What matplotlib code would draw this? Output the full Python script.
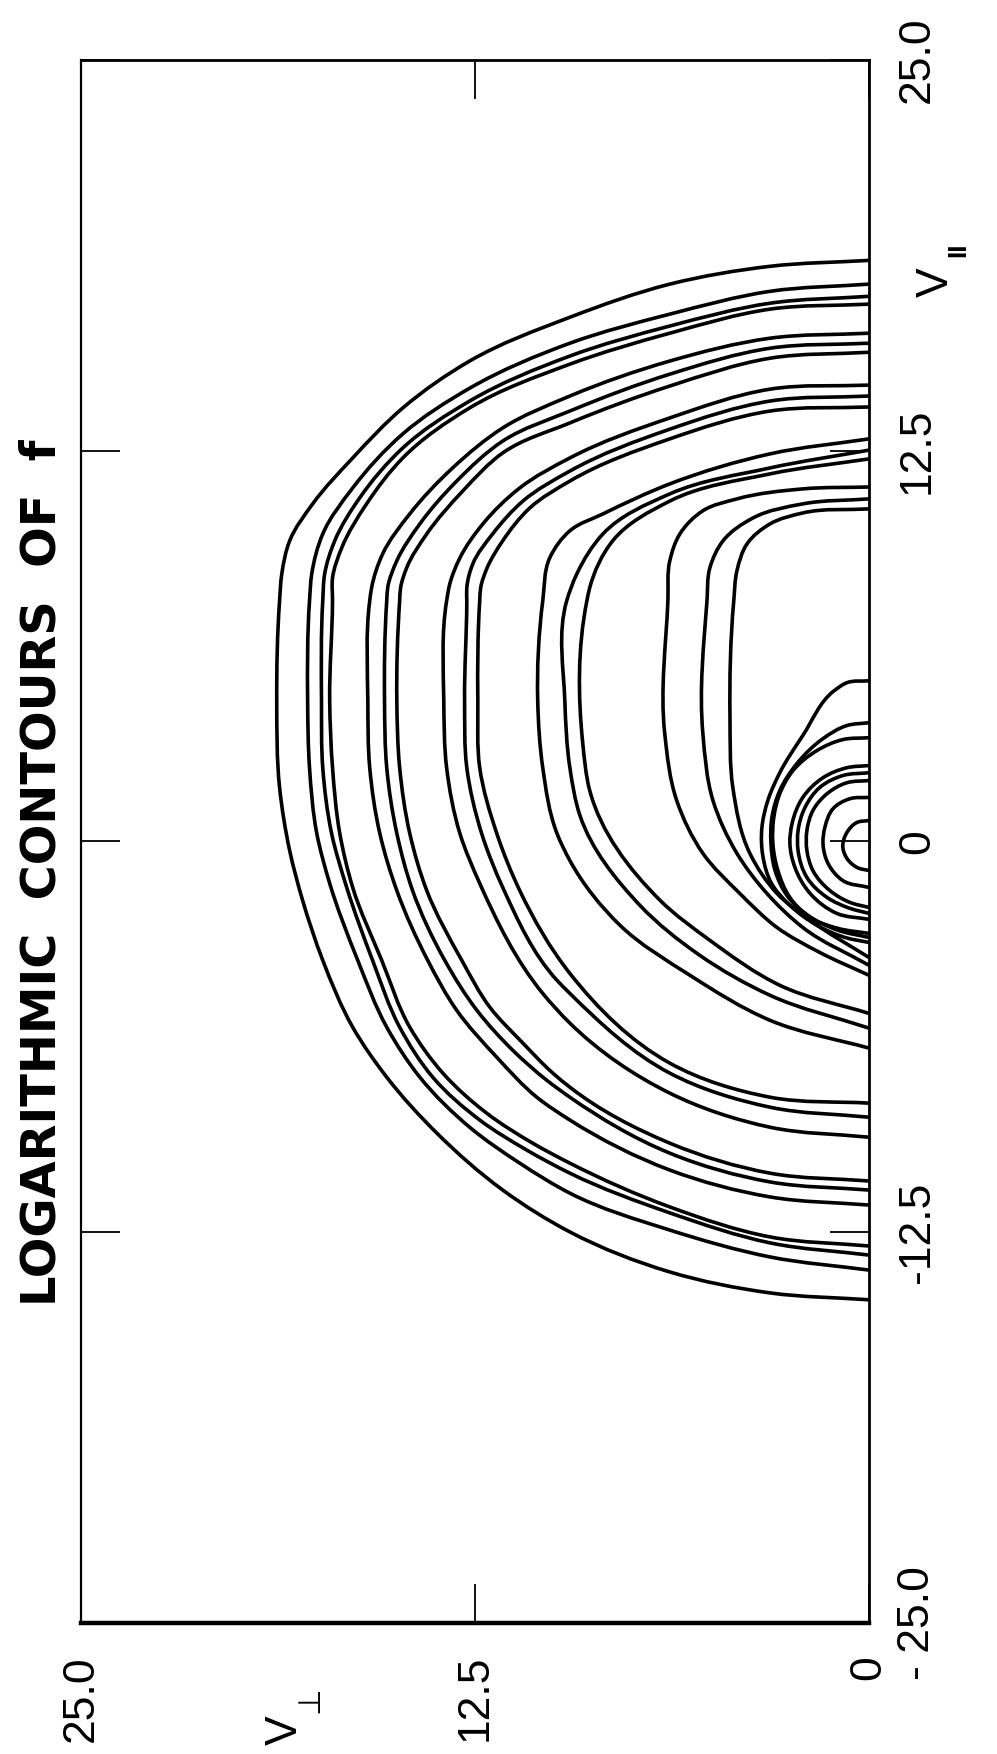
import math
import matplotlib
matplotlib.use("Agg")
import matplotlib.pyplot as plt
from matplotlib.path import Path
from matplotlib.patches import PathPatch

# ---------------- data: contour lines as (v_perp, v_par) pairs ----------------
outer = [(0, 18.59), (3.14, 18.40), (6.32, 17.83), (9.49, 16.77), (12.67, 15.37), (14.79, 13.87),
         (16.38, 12.27), (17.65, 10.80), (18.38, 9.62), (18.63, 8.56), (18.70, 7.70), (18.79, 4.50),
         (18.70, 1.73), (18.38, -0.29), (17.97, -1.88), (17.33, -3.80), (16.38, -5.94), (15.30, -7.54),
         (13.71, -9.33), (11.62, -11.15), (9.49, -12.49), (6.32, -13.77), (3.14, -14.44), (0, -14.66)]

g1_a = [(0, 17.83), (3.14, 17.60), (6.32, 16.87), (9.49, 15.94), (12.67, 14.50), (14.79, 13.04),
        (16.38, 11.31), (17.33, 9.84), (17.68, 8.56), (17.75, 7.70), (17.81, 4.50), (17.75, 2.36),
        (17.52, 0.26), (17.11, -1.34), (16.22, -3.80), (15.30, -5.94), (14.25, -7.54), (12.67, -9.14),
        (11.08, -10.29), (9.49, -11.25), (6.32, -12.43), (3.14, -13.29), (0, -13.71)]
g1_b = [(0, 17.44), (3.14, 17.22), (6.32, 16.49), (9.49, 15.53), (12.67, 14.09), (14.79, 12.59),
        (16.16, 10.99), (16.95, 9.62), (17.27, 8.56), (17.33, 7.70), (17.37, 4.50), (17.33, 2.36),
        (17.05, 0.26), (16.57, -1.47), (15.75, -3.80), (14.89, -5.94), (13.84, -7.54), (12.35, -8.91),
        (10.86, -9.87), (9.49, -10.61), (6.32, -11.88), (3.14, -12.84), (0, -13.23)]
g1_c = [(0, 17.19), (3.14, 17.03), (6.32, 16.26), (9.49, 15.27), (12.67, 13.87), (14.79, 12.27),
        (15.94, 10.80), (16.73, 9.39), (17.02, 8.43), (17.02, 7.70), (17.11, 4.50), (17.02, 2.36),
        (16.79, 0.26), (16.38, -1.47), (15.46, -3.80), (14.57, -5.94), (13.52, -7.41), (12.13, -8.69),
        (10.67, -9.65), (9.49, -10.29), (6.32, -11.69), (3.14, -12.65), (0, -12.94)]

g2_a = [(0, 16.26), (3.14, 16.10), (6.32, 15.37), (9.49, 14.25), (11.62, 13.23), (13.21, 11.95),
        (14.57, 10.48), (15.43, 9.20), (15.78, 8.12), (15.84, 7.70), (15.90, 4.50), (15.84, 2.36),
        (15.52, 0.26), (14.98, -1.57), (14.00, -3.80), (13.08, -5.40), (11.81, -6.90), (10.54, -8.18),
        (9.49, -8.91), (6.32, -10.51), (3.14, -11.37), (0, -11.63)]
g2_b = [(0, 15.94), (3.14, 15.78), (6.32, 14.95), (9.49, 13.77), (11.62, 12.81), (13.08, 11.53),
        (14.25, 10.16), (14.98, 8.98), (15.27, 8.12), (15.30, 7.70), (15.37, 4.50), (15.30, 2.36),
        (14.98, 0.26), (14.48, -1.57), (13.46, -3.80), (12.44, -5.40), (11.30, -6.68), (10.22, -7.64),
        (9.49, -8.18), (6.32, -9.97), (3.14, -10.89), (0, -11.15)]
g2_c = [(0, 15.65), (3.14, 15.46), (6.32, 14.57), (9.49, 13.39), (11.62, 12.43), (12.89, 11.21),
        (14.03, 9.84), (14.67, 8.75), (14.86, 8.12), (14.89, 7.70), (14.98, 4.50), (14.89, 2.36),
        (14.57, 0.26), (14.03, -1.57), (12.92, -3.80), (12.03, -5.30), (10.98, -6.45), (10.03, -7.41),
        (9.49, -7.86), (6.32, -9.65), (3.14, -10.61), (0, -10.86)]

g3_a = [(0, 14.60), (3.14, 14.47), (6.32, 13.55), (9.49, 12.27), (11.08, 11.31), (12.25, 10.16),
        (12.98, 9.07), (13.30, 8.24), (13.40, 7.70), (13.49, 4.50), (13.40, 2.36), (12.98, 0.26),
        (12.35, -1.34), (10.35, -4.86), (9.49, -5.81), (6.32, -8.05), (3.14, -9.14),
        (0, -9.46)]
g3_b = [(0, 14.25), (3.14, 14.09), (6.32, 13.19), (9.49, 11.85), (10.98, 10.89), (11.94, 9.84),
        (12.57, 8.88), (12.76, 8.12), (12.76, 7.70), (12.83, 4.50), (12.76, 2.36), (12.29, 0.26),
        (11.62, -1.47), (9.90, -4.44), (9.49, -4.86), (6.32, -7.41), (3.14, -8.50),
        (0, -8.82)]
g3_c = [(0, 13.90), (3.14, 13.77), (6.32, 12.88), (9.49, 11.53), (10.76, 10.67), (11.62, 9.62),
        (12.13, 8.72), (12.32, 8.12), (12.35, 7.70), (12.41, 4.50), (12.35, 2.36), (11.81, 0.26),
        (11.08, -1.57), (9.49, -4.22), (6.32, -7.09), (3.14, -8.18), (0, -8.37)]

g4_a = [(0, 12.88), (3.14, 12.40), (6.32, 11.44), (8.44, 10.48), (9.49, 9.94), (10.13, 9.07),
        (10.35, 7.70), (10.51, 4.50), (10.35, 2.36), (9.90, 0.26), (9.49, -0.61),
        (7.90, -2.68), (5.68, -4.28), (3.14, -5.72), (0, -6.61)]
g4_b = [(0, 12.52), (3.14, 11.95), (6.32, 11.12), (8.44, 9.84), (9.27, 8.56), (9.59, 7.70),
        (9.65, 4.50), (9.49, 2.36), (9.17, 0.83), (7.27, -2.04), (5.37, -3.64),
        (3.14, -4.92), (0, -5.97)]
g4_c = [(0, 12.24), (3.14, 11.76), (6.32, 10.89), (8.13, 9.62), (8.86, 8.12), (8.95, 7.70),
        (9.08, 3.13), (8.86, 1.63), (6.63, -1.88), (5.05, -3.16), (2.83, -4.60),
        (0, -5.50)]

g5_a = [(0, 11.34), (2.10, 11.28), (4.19, 10.96), (5.27, 10.58), (6.00, 9.84), (6.32, 8.98),
        (6.38, 7.70), (6.48, 3.45), (6.10, 1.31), (5.27, -0.38), (4.10, -1.66), (2.92, -2.75),
        (1.56, -3.55), (0, -4.28)]
g5_b = [(0, 10.96), (2.10, 10.80), (3.68, 10.35), (4.63, 9.62), (5.05, 8.75), (5.14, 7.70),
        (5.27, 3.45), (4.95, 1.31), (4.19, -0.38), (3.24, -1.66), (2.10, -2.75), (0, -3.96)]
g5_c = [(0, 10.64), (2.10, 10.51), (3.14, 10.16), (3.87, 9.52), (4.19, 8.66), (4.29, 7.70),
        (4.41, 3.96), (4.32, 1.73), (3.78, -0.38), (2.92, -1.66), (1.87, -2.52), (0, -3.71)]

in_1 = [(0, 5.14), (0.70, 5.08), (1.11, 4.82), (2.10, 3.39), (2.83, 2.20), (3.21, 1.31), (3.40, 0.42),
        (3.37, -0.45), (3.11, -1.31), (2.51, -2.04), (1.65, -2.68), (0.76, -3.07), (0, -3.23)]
in_2 = [(0, 3.80), (0.70, 3.71), (1.46, 3.29), (2.29, 2.49), (2.83, 1.63), (3.08, 0.77), (3.11, -0.06),
        (2.98, -0.93), (2.60, -1.73), (1.94, -2.36), (0.98, -2.84), (0, -3.07)]
in_3 = [(0, 3.32), (0.83, 3.26), (1.65, 2.91), (2.41, 2.27), (2.83, 1.53), (3.02, 0.77), (3.05, -0.06),
        (2.89, -0.93), (2.51, -1.79), (1.87, -2.43), (0.98, -2.78), (0, -2.94)]
in_4 = [(0, 2.43), (0.70, 2.36), (1.46, 2.04), (2.10, 1.41), (2.44, 0.58), (2.51, -0.06), (2.35, -0.83),
        (1.87, -1.66), (1.02, -2.30), (0, -2.49)]
in_5 = [(0, 2.20), (0.83, 2.11), (1.56, 1.73), (2.03, 1.09), (2.25, 0.35), (2.25, -0.29), (1.97, -1.15),
        (1.33, -1.79), (0.60, -2.14), (0, -2.30)]
in_6 = [(0, 1.95), (0.70, 1.88), (1.33, 1.53), (1.78, 0.99), (1.97, 0.35), (1.97, -0.29), (1.78, -0.93),
        (1.24, -1.57), (0.60, -1.95), (0, -2.11)]
in_7 = [(0, 1.41), (0.60, 1.37), (1.14, 1.05), (1.40, 0.45), (1.46, -0.06), (1.30, -0.70), (0.83, -1.25),
        (0, -1.47)]
in_8 = [(0, 0.67), (0.38, 0.61), (0.70, 0.29), (0.83, -0.19), (0.70, -0.54), (0.38, -0.83), (0, -0.93)]

contours = [outer, g1_a, g1_b, g1_c, g2_a, g2_b, g2_c, g3_a, g3_b, g3_c,
            g4_a, g4_b, g4_c, g5_a, g5_b, g5_c,
            in_1, in_2, in_3, in_4, in_5, in_6, in_7, in_8]

vperp_ticks = [25.0, 12.5, 0.0]
vperp_labels = ["25.0", "12.5", "0"]
vpar_ticks = [-25.0, -12.5, 0.0, 12.5, 25.0]
vpar_labels = ["- 25.0", "-12.5", "0", "12.5", "25.0"]

title_text = "LOGARITHMIC  CONTOURS  OF  f"


def smooth_path(pts):
    """Path through the read points joined by cubic Bezier segments.
    Tangents use Bessel weighting so uneven point spacing does not wiggle."""
    n = len(pts)
    segs = []
    for i in range(n - 1):
        dx, dy = pts[i + 1][0] - pts[i][0], pts[i + 1][1] - pts[i][1]
        d = math.hypot(dx, dy) or 1e-9
        segs.append((dx / d, dy / d, d))
    tans = []
    for i in range(n):
        if i == 0:
            tans.append(segs[0][:2])
        elif i == n - 1:
            tans.append(segs[-1][:2])
        else:
            ua, ub = segs[i - 1], segs[i]
            tx = ua[0] * ub[2] + ub[0] * ua[2]
            ty = ua[1] * ub[2] + ub[1] * ua[2]
            t = math.hypot(tx, ty) or 1e-9
            tans.append((tx / t, ty / t))
    verts = [pts[0]]
    codes = [Path.MOVETO]
    for i in range(n - 1):
        p1, p2 = pts[i], pts[i + 1]
        h = segs[i][2] / 3.0
        c1 = (p1[0] + tans[i][0] * h, p1[1] + tans[i][1] * h)
        c2 = (p2[0] - tans[i + 1][0] * h, p2[1] - tans[i + 1][1] * h)
        verts += [c1, c2, p2]
        codes += [Path.CURVE4, Path.CURVE4, Path.CURVE4]
    return Path(verts, codes)


# ---------------- figure ----------------
W, H = 997, 1754
fig = plt.figure(figsize=(W / 100, H / 100), dpi=100)
ax = fig.add_axes([81 / W, 1 - 1623 / H, (869 - 81) / W, (1623 - 60) / H])

for c in contours:
    ax.add_patch(PathPatch(smooth_path(c), fill=False, edgecolor="black", lw=2.6,
                           capstyle="butt", joinstyle="round"))

ax.set_xlim(25, 0)
ax.set_ylim(-25, 25)

lab_font = {"family": ["Liberation Sans", "DejaVu Sans"], "size": 32}

ax.set_xticks(vperp_ticks)
ax.set_xticklabels(vperp_labels, rotation=90, va="top", ha="center", fontdict=lab_font)
ax.set_yticks(vpar_ticks)
ax.set_yticklabels(vpar_labels, rotation=90, va="center", ha="left", fontdict=lab_font)

ax.xaxis.set_ticks_position("both")
ax.yaxis.set_ticks_position("both")
ax.tick_params(axis="x", direction="in", length=28, width=1.3, pad=23,
               labelbottom=True, labeltop=False)
ax.tick_params(axis="y", direction="in", length=28, width=1.3, pad=20,
               labelleft=False, labelright=True)

ax.spines["top"].set_linewidth(2.0)
ax.spines["bottom"].set_linewidth(3.2)
ax.spines["left"].set_linewidth(1.6)
ax.spines["right"].set_linewidth(2.0)

# title (rotated, to the left of the frame)
fig.text(42 / W, 1 - 873 / H, title_text, rotation=90, ha="center", va="center",
         fontsize=34.5, fontweight="bold", family=["DejaVu Sans"])

# axis labels
axw, axh = 869 - 81, 1623 - 60
ax.text((936 - 81) / axw, 1 - (282 - 60) / axh, "V", transform=ax.transAxes, rotation=90,
        ha="center", va="center", fontdict=lab_font)
ax.text((958 - 81) / axw, 1 - (250 - 60) / axh, "II", transform=ax.transAxes, rotation=90,
        ha="center", va="center", fontsize=19, fontweight="bold", family=["Liberation Sans"])

ax.text((285 - 81) / axw, -(1730 - 1623) / axh, "V", transform=ax.transAxes,
        rotation=90, ha="center", va="center", fontdict=lab_font)
ax.text((310 - 81) / axw, -(1700 - 1623) / axh, "\u22a5", transform=ax.transAxes,
        rotation=90, ha="center", va="center", fontsize=22, family=["DejaVu Sans"])

fig.savefig("out.png", dpi=100)
